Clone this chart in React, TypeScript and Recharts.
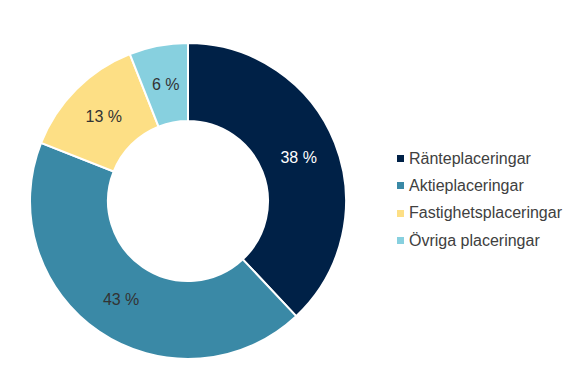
import { PieChart, Pie, Cell, Legend } from 'recharts';

const categories = ['Ränteplaceringar', 'Aktieplaceringar', 'Fastighetsplaceringar', 'Övriga placeringar'];
const shares = [38, 43, 13, 6];
const colors = ['#002147', '#3a89a6', '#fddf85', '#87d0df'];
const labelColors = ['#ffffff', '#333333', '#333333', '#333333'];

const data = categories.map((name, i) => ({ name, value: shares[i] }));

const RAD = Math.PI / 180;

function renderLabel(props: any) {
  const { cx, cy, midAngle, innerRadius, outerRadius, index, value } = props;
  const r = (innerRadius + outerRadius) / 2;
  const x = cx + r * Math.cos(-midAngle * RAD);
  const y = cy + r * Math.sin(-midAngle * RAD);
  return (
    <text
      x={x}
      y={y}
      fill={labelColors[index]}
      textAnchor="middle"
      dominantBaseline="central"
      fontSize={16}
      fontFamily="'Liberation Sans', Arial, sans-serif"
    >
      {`${value} %`}
    </text>
  );
}

function LegendBox() {
  return (
    <div style={{ fontFamily: "'Liberation Sans', Arial, sans-serif", fontSize: 16, color: '#404040' }}>
      {categories.map((c, i) => (
        <div key={c} style={{ display: 'flex', alignItems: 'center', height: 27.3 }}>
          <span style={{ width: 7, height: 7, background: colors[i], marginRight: 5, display: 'inline-block' }} />
          <span>{c}</span>
        </div>
      ))}
    </div>
  );
}

export default function App() {
  return (
    <div style={{ position: 'absolute', left: 0, top: 0 }}>
      <PieChart width={573} height={375} margin={{ top: 0, right: 0, bottom: 0, left: 0 }}>
        <Pie
          data={data}
          dataKey="value"
          cx={188}
          cy={201}
          innerRadius={80}
          outerRadius={158}
          startAngle={90}
          endAngle={-270}
          stroke="#ffffff"
          strokeWidth={2}
          label={renderLabel}
          labelLine={false}
          isAnimationActive={false}
        >
          {data.map((d, i) => (
            <Cell key={d.name} fill={colors[i]} />
          ))}
        </Pie>
        <Legend
          content={<LegendBox />}
          wrapperStyle={{ position: 'absolute', left: 397, top: 145, width: 176 }}
        />
      </PieChart>
    </div>
  );
}
